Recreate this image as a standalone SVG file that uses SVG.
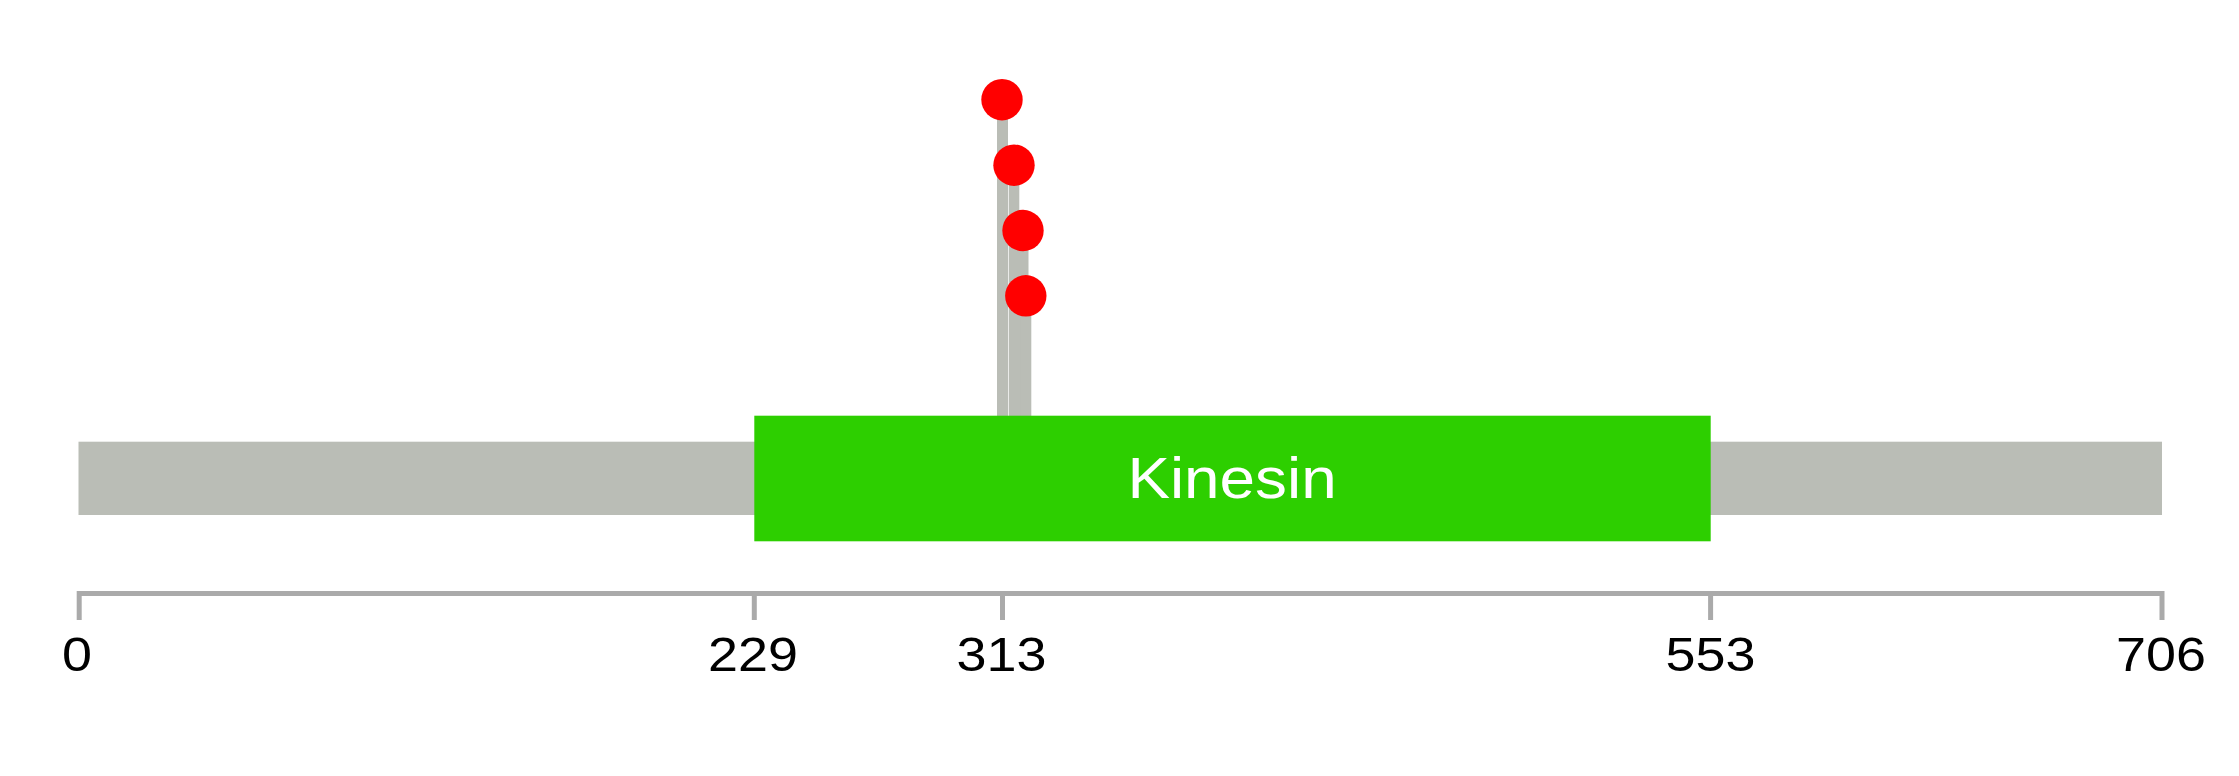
<svg xmlns="http://www.w3.org/2000/svg" width="2239" height="776" viewBox="0 0 2239 776">
  <style>
    .stem { fill: #babdb6; }
    .dot { fill: #ff0000; }
    .axis { fill: none; stroke: #aaaaaa; stroke-width: 5; }
    .lbl { font-family: "Liberation Sans", Arial, sans-serif; font-size: 49px; fill: #000000; text-anchor: middle; }
    .dom { font-family: "Liberation Sans", Arial, sans-serif; font-size: 58px; fill: #ffffff; text-anchor: middle; }
  </style>
  <rect width="2239" height="776" fill="#ffffff"/>
  <g id="protein">
    <rect x="78.5" y="441.7" width="2083.5" height="73.3" fill="#babdb6"/>
  </g>
  <g id="connectors">
    <rect class="stem" x="997" y="99.7" width="11" height="316.3"/>
    <rect class="stem" x="1008.7" y="165.2" width="10.6" height="250.8"/>
    <rect class="stem" x="1017.5" y="230.5" width="11" height="185.5"/>
    <rect class="stem" x="1020.3" y="295.8" width="11" height="120.2"/>
  </g>
  <g id="domain-kinesin">
    <rect x="754.3" y="415.7" width="956.4" height="125.6" fill="#2dcf00"/>
    <text class="dom" transform="translate(1232,498) scale(1.1,1)">Kinesin</text>
  </g>
  <g id="mutation-1"><circle class="dot" cx="1002" cy="99.7" r="20.7"/></g>
  <g id="mutation-2"><circle class="dot" cx="1014" cy="165.2" r="20.7"/></g>
  <g id="mutation-3"><circle class="dot" cx="1023" cy="230.5" r="20.7"/></g>
  <g id="mutation-4"><circle class="dot" cx="1025.8" cy="295.8" r="20.7"/></g>
  <g id="axis">
    <path class="axis" d="M79.2,620 V593.5 H2162 V620 M754.3,593.5 V620 M1002.5,593.5 V620 M1710.6,593.5 V620"/>
    <text class="lbl" transform="translate(77,671) scale(1.1,1)">0</text>
    <text class="lbl" transform="translate(753,671) scale(1.1,1)">229</text>
    <text class="lbl" transform="translate(1001.5,671) scale(1.1,1)">313</text>
    <text class="lbl" transform="translate(1710.5,671) scale(1.1,1)">553</text>
    <text class="lbl" transform="translate(2161,671) scale(1.1,1)">706</text>
  </g>
</svg>
